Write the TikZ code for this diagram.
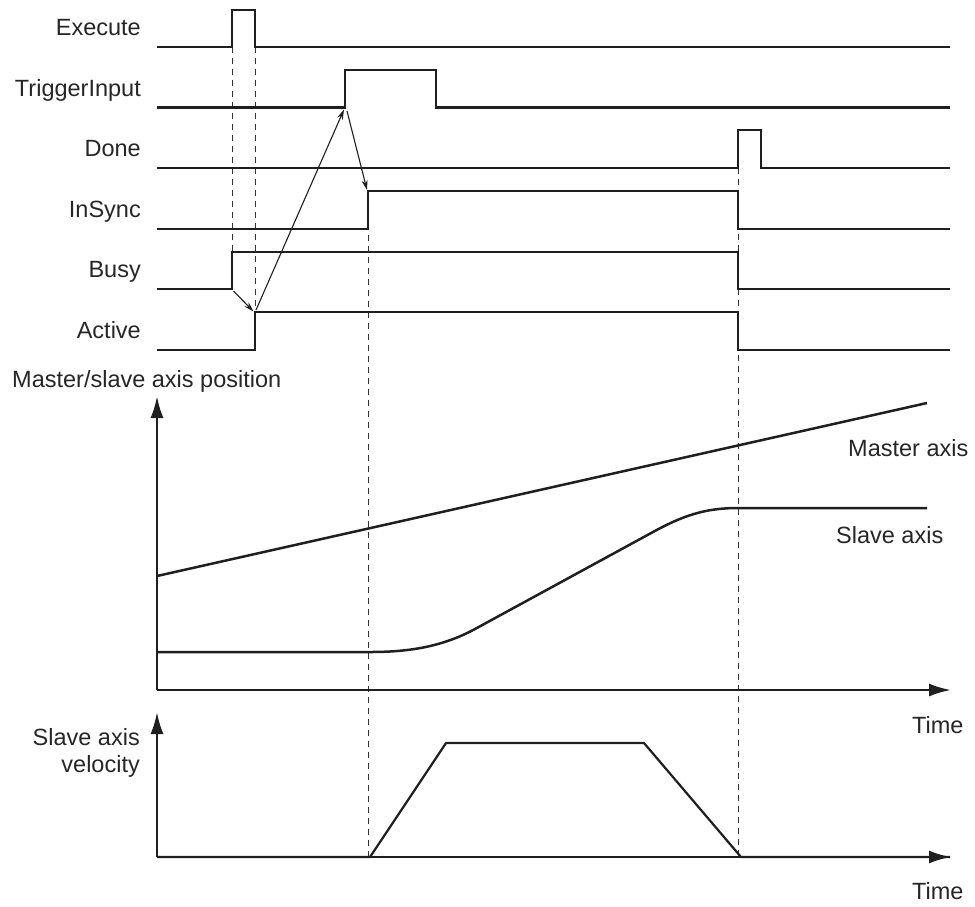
\documentclass[tikz,border=0pt]{standalone}
\usepackage{fontspec}
\setmainfont{Liberation Sans}
\usetikzlibrary{arrows.meta}
\begin{document}
\begin{tikzpicture}[x=1pt,y=-1pt,
  lbl/.style={font=\fontsize{23.5}{27}\selectfont,inner sep=0pt,text=black!85},
  sig/.style={line width=2.5pt,line join=miter,color=black!88},
  dsh/.style={line width=1pt,dash pattern=on 6pt off 5pt,color=black!80},
  cause/.style={line width=1.1pt,color=black!88,-{Stealth[length=10pt,width=6pt]}},
  axis/.style={line width=2.5pt,color=black!88,-{Latex[length=22pt,width=13pt]}},
  curve/.style={line width=2.5pt,color=black!88,line join=round}]
\useasboundingbox (0,0) rectangle (975,906);
% dashed guide lines
\draw[dsh] (232,47) -- (232,289);
\draw[dsh] (255,47) -- (255,350);
\draw[dsh] (368,191) -- (368,857);
\draw[dsh] (738,168) -- (738,857);
% labels
\node[lbl,anchor=base east] (lExe) at (141,35.5) {Execute};
\node[lbl,anchor=base east] (lTrg) at (141,96) {TriggerInput};
\node[lbl,anchor=base east] (lDone) at (141,156.5) {Done};
\node[lbl,anchor=base east] (lSync) at (141,217.5) {InSync};
\node[lbl,anchor=base east] (lBusy) at (141,277.5) {Busy};
\node[lbl,anchor=base east] (lAct) at (141,338.5) {Active};
% signals
\draw[sig] (157,47) -- (232,47) -- (232,10) -- (255,10) -- (255,47) -- (950,47);
\draw[sig] (157,107.5) -- (345,107.5) -- (345,70) -- (436,70) -- (436,107.5) -- (950,107.5);
\draw[sig] (157,168) -- (738,168) -- (738,130) -- (761,130) -- (761,168) -- (950,168);
\draw[sig] (157,229) -- (368,229) -- (368,191) -- (738,191) -- (738,229) -- (950,229);
\draw[sig] (157,289) -- (232,289) -- (232,252) -- (738,252) -- (738,289) -- (950,289);
\draw[sig] (157,350) -- (255,350) -- (255,312) -- (738,312) -- (738,350) -- (950,350);
% edge coordinates
\coordinate (busyRise) at (233.5,291);
\coordinate (actRise) at (253.5,311.5);
\coordinate (actRise2) at (256,310);
\coordinate (trgRise) at (344,109.5);
\coordinate (trgRise2) at (347,111);
\coordinate (syncRise) at (367,190);
\draw[cause] (busyRise) -- (actRise);
\draw[cause] (actRise2) -- (trgRise);
\draw[cause] (trgRise2) -- (syncRise);
% position chart
\node[lbl,anchor=base west] (lPos) at (12,387) {Master/slave axis position};
\coordinate (o1) at (157,690);
\coordinate (y1) at (157,396);
\coordinate (x1) at (951,690);
\draw[axis] (o1) -- (y1);
\draw[axis] (o1) -- (x1);
\node[lbl,anchor=base west] (lT1) at (912,733) {Time};
\draw[curve] (157,576) -- (927,403);
\draw[curve] (157,652) -- (370,652) .. controls (405,652) and (440,648) .. (475,629)
  -- (653,532) .. controls (683,515.6) and (705,508) .. (738,508) -- (927,508);
\node[lbl,anchor=base west] (lMas) at (848,456) {Master axis};
\node[lbl,anchor=base west] (lSla) at (836,543) {Slave axis};
% velocity chart
\coordinate (o2) at (157,857);
\coordinate (y2) at (157,712);
\coordinate (x2) at (951,857);
\draw[axis] (o2) -- (y2);
\draw[axis] (o2) -- (x2);
\node[lbl,anchor=base west] (lT2) at (912,899) {Time};
\node[lbl,anchor=north east,align=right] (lVel) at (140,728) {Slave axis\\velocity};
\draw[curve,line width=2.2pt] (157,857) -- (370,857) -- (446,743) -- (644,743) -- (741,857) -- (950,857);
\end{tikzpicture}
\end{document}
